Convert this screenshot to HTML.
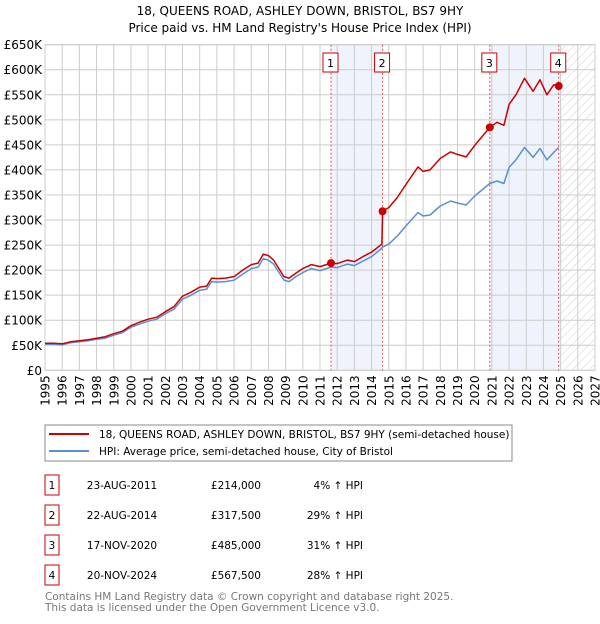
<!DOCTYPE html>
<html><head><meta charset="utf-8"><style>
body{margin:0;background:#fff;width:600px;height:620px;overflow:hidden;font-family:"DejaVu Sans","Liberation Sans",sans-serif}
svg text{font-family:"DejaVu Sans","Liberation Sans",sans-serif}
</style></head><body>
<svg id="c" width="600" height="620">
<defs><pattern id="hatch" width="6" height="6" patternUnits="userSpaceOnUse" patternTransform="rotate(45)"><line x1="0" y1="0" x2="0" y2="6" stroke="#ccc" stroke-width="1"/></pattern></defs>
<text x="300" y="15" text-anchor="middle" font-size="12">18, QUEENS ROAD, ASHLEY DOWN, BRISTOL, BS7 9HY</text>
<text x="300" y="32" text-anchor="middle" font-size="12">Price paid vs. HM Land Registry's House Price Index (HPI)</text>
<g id="plot"></g>
<rect x="45" y="425" width="467" height="36" fill="#fff" stroke="#888"/>
<line x1="49" y1="434" x2="89" y2="434" stroke="#cc0000" stroke-width="2"/>
<text x="99" y="438" font-size="10.5">18, QUEENS ROAD, ASHLEY DOWN, BRISTOL, BS7 9HY (semi-detached house)</text>
<line x1="49" y1="451" x2="89" y2="451" stroke="#5b8fd4" stroke-width="2"/>
<text x="99" y="455" font-size="10.5">HPI: Average price, semi-detached house, City of Bristol</text>
<g id="table"></g>
<text x="45" y="600" font-size="10.5" fill="#777">Contains HM Land Registry data © Crown copyright and database right 2025.</text>
<text x="45" y="611" font-size="10.5" fill="#777">This data is licensed under the Open Government Licence v3.0.</text>
</svg>
<script>
const dates=[1995.0,1995.5,1996.0,1996.5,1997.0,1997.5,1998.0,1998.5,1999.0,1999.5,2000.0,2000.5,2001.0,2001.5,2002.0,2002.5,2003.0,2003.5,2004.0,2004.4,2004.7,2005.0,2005.5,2006.0,2006.5,2007.0,2007.4,2007.7,2008.0,2008.3,2008.9,2009.2,2009.6,2010.0,2010.5,2011.0,2011.64,2012.0,2012.6,2013.0,2013.5,2014.0,2014.6,2014.64,2015.0,2015.5,2016.0,2016.7,2017.0,2017.4,2018.0,2018.6,2019.0,2019.5,2020.0,2020.88,2021.3,2021.7,2022.0,2022.4,2022.9,2023.4,2023.8,2024.2,2024.6,2024.89];
const hpi=[52,52,51,55,57,59,62,64,70,75,86,92,98,102,113,122,142,150,160,162,177,176,177,180,192,203,206,223,220,212,180,177,187,195,203,199,206,205,212,209,218,227,244,246,252,268,288,315,308,310,328,338,334,330,348,373,378,373,405,420,445,425,443,420,435,445];
const price=[54,54,53,57,59,61,64,67,73,78,89,96,102,106,117,127,148,156,166,168,184,183,184,187,200,211,214,232,229,220,187,184,194,203,211,207,214,213,220,217,227,236,252,317.5,325,345,371,406,397,400,423,436,431,426,449,485,495,489,531,550,583,557,580,550,570,567.5];
const saleDates=[2011.64,2014.64,2020.88,2024.89];
const salePrices=[214,317.5,485,567.5];
const saleLabels=["1","2","3","4"];
const saleDateText=["23-AUG-2011","22-AUG-2014","17-NOV-2020","20-NOV-2024"];
const salePriceText=["£214,000","£317,500","£485,000","£567,500"];
const saleHpiText=["4% ↑ HPI","29% ↑ HPI","31% ↑ HPI","28% ↑ HPI"];
const yTicks=[0,50,100,150,200,250,300,350,400,450,500,550,600,650];
const yTickLabels=["£0","£50K","£100K","£150K","£200K","£250K","£300K","£350K","£400K","£450K","£500K","£550K","£600K","£650K"];
const xTicks=[1995,1996,1997,1998,1999,2000,2001,2002,2003,2004,2005,2006,2007,2008,2009,2010,2011,2012,2013,2014,2015,2016,2017,2018,2019,2020,2021,2022,2023,2024,2025,2026,2027];
const NS="http://www.w3.org/2000/svg";
const X0=45,X1=595,Y0=370.3,Y1=44.7;
const xs=d=>X0+(d-1995)/(2027-1995)*(X1-X0);
const ys=v=>Y0-v/650*(Y0-Y1);
const plot=document.getElementById('plot');
function mk(tag,attrs,parent){const e=document.createElementNS(NS,tag);for(const k in attrs)e.setAttribute(k,attrs[k]);(parent||plot).appendChild(e);return e;}
let e;
e=mk('rect',{x:xs(saleDates[0]),y:Y1,width:xs(saleDates[1])-xs(saleDates[0]),height:Y0-Y1,fill:'#eef3fc'});


e=mk('rect',{x:xs(saleDates[2]),y:Y1,width:xs(saleDates[3])-xs(saleDates[2]),height:Y0-Y1,fill:'#eef3fc'});


e=mk('rect',{x:xs(saleDates[3]),y:Y1,width:X1-xs(saleDates[3]),height:Y0-Y1,fill:'url(#hatch)'});


yTicks.forEach((v,i)=>{
 e=mk('line',{x1:X0,x2:X1,y1:ys(v),y2:ys(v),stroke:'#ccc','stroke-width':1});
 
 
 e=mk('text',{x:X0-3,y:ys(v)+4.5,'text-anchor':'end','font-size':12});
 e.textContent=yTickLabels[i];
 
 
});
xTicks.forEach(t=>{
 e=mk('line',{x1:xs(t),x2:xs(t),y1:Y1,y2:Y0,stroke:'#ccc','stroke-width':1});
 
 
 e=mk('text',{x:0,y:0,'text-anchor':'end','font-size':12,transform:`translate(${xs(t)+4.5},${Y0+5}) rotate(-90)`});
 e.textContent=t;
 
 
});
e=mk('rect',{x:X0,y:Y1,width:X1-X0,height:Y0-Y1,fill:'none',stroke:'#ccc'});


saleDates.forEach((d,i)=>{
 e=mk('line',{x1:xs(d),x2:xs(d),y1:Y1,y2:Y0,stroke:'#e05050','stroke-width':1,'stroke-dasharray':'2,2'});
 
 
});
function path(arr,col,name){
 let s='';arr.forEach((v,i)=>{s+=(i?'L':'M')+xs(dates[i]).toFixed(1)+','+ys(v).toFixed(1);});
 e=mk('path',{d:s,fill:'none',stroke:col,'stroke-width':1.5,'stroke-linejoin':'round'});
 
 
}
path(hpi,'#5b8fd4','hpi-line');
path(price,'#cc0000','price-line');
saleDates.forEach((d,i)=>{
 e=mk('circle',{cx:xs(d),cy:ys(salePrices[i]),r:4,fill:'#cc0000'});
 
 
 e=mk('rect',{x:xs(d)-8,y:53,width:15,height:19,fill:'#fff',stroke:'#cc0000'});
 
 
 e=mk('text',{x:xs(d)-0.5,y:67,'text-anchor':'middle','font-size':11});
 e.textContent=saleLabels[i];
 
 
});
const tb=document.getElementById('table');
saleLabels.forEach((l,i)=>{
 const cy=483+i*30;
 e=mk('rect',{x:45,y:cy-8,width:14,height:20,fill:'#fff',stroke:'#cc0000'},tb);
 
 
 e=mk('text',{x:52,y:cy+6,'text-anchor':'middle','font-size':10.5},tb);e.textContent=l;
 
 
 e=mk('text',{x:122,y:cy+6,'text-anchor':'middle','font-size':10.5},tb);e.textContent=saleDateText[i];
 
 
 e=mk('text',{x:261,y:cy+6,'text-anchor':'end','font-size':10.5},tb);e.textContent=salePriceText[i];
 
 
 e=mk('text',{x:363,y:cy+6,'text-anchor':'end','font-size':10.5},tb);e.textContent=saleHpiText[i];
 
 
});
</script>
</body></html>
